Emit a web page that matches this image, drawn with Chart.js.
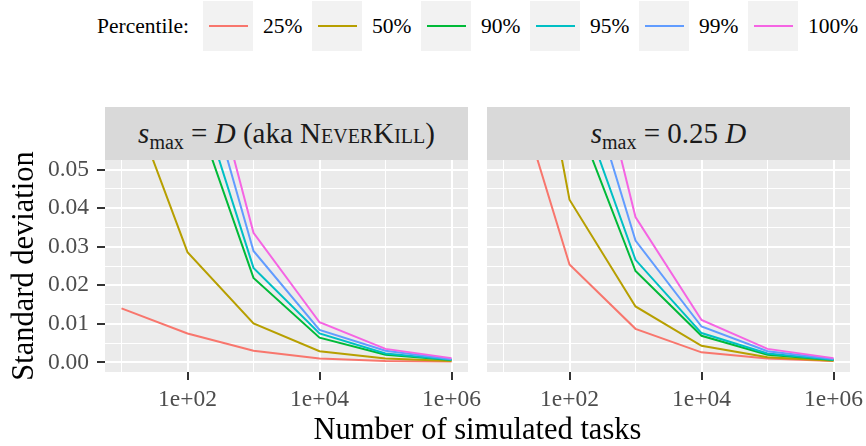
<!DOCTYPE html>
<html>
<head>
<meta charset="utf-8">
<script src="https://cdn.jsdelivr.net/npm/chart.js@4"></script>
<style>
  body { margin: 0; background: #fff; font-family: "Liberation Serif", serif; }
  #wrap { position: relative; width: 866px; height: 446px; overflow: hidden; }
  canvas { position: absolute; top: 0; }
  #leftChart { left: 0; }
  #rightChart { left: 480px; }
  .strip { position: absolute; top: 107px; height: 53px; width: 363px; background: #D9D9D9;
           display: flex; align-items: center; justify-content: center; font-size: 29px; color: #1A1A1A; }
  .strip sub { font-size: 20px; vertical-align: -6px; line-height: 0; }
  .sc { font-variant: small-caps; }
  #legend { position: absolute; top: 1px; left: 97px; height: 50px; display: flex; align-items: center; font-size: 21.5px; }
  #legend .key { width: 50px; height: 50px; background: #F2F2F2; display: flex; align-items: center; justify-content: center; }
  #legend .key span { display: block; width: 39px; height: 2px; }
  #legend .lbl { width: 59px; padding-left: 10px; box-sizing: border-box; }
  #xTitle { position: absolute; left: 105px; width: 745px; top: 412px; text-align: center; font-size: 30.5px; }
</style>
</head>
<body>
<div id="wrap">
  <div id="legend"></div>
  <div class="strip" style="left:105px"><span><i>s</i><sub>max</sub>&nbsp;=&nbsp;<i>D</i>&nbsp;(aka&nbsp;<span class="sc">NeverKill</span>)</span></div>
  <div class="strip" style="left:487px"><span><i>s</i><sub>max</sub>&nbsp;=&nbsp;0.25&nbsp;<i>D</i></span></div>
  <canvas id="leftChart" width="486" height="446"></canvas>
  <canvas id="rightChart" width="386" height="446"></canvas>
  <div id="xTitle">Number of simulated tasks</div>
</div>
<script>
// number of simulated tasks (x)
const tasks = [1e1, 1e2, 1e3, 1e4, 1e5, 1e6];
const percentiles = ['25%', '50%', '90%', '95%', '99%', '100%'];
const yTicks = [0, 0.01, 0.02, 0.03, 0.04, 0.05];
const yMinorTicks = [0.005, 0.015, 0.025, 0.035, 0.045];

// s_max = D (aka NeverKill); null = above the visible range, not readable
const nkP25 = [0.0140, 0.0075, 0.0030, 0.0010, 0.00035, 0.0002];
const nkP50 = [0.0744, 0.0286, 0.0101, 0.0029, 0.0010, 0.00035];
const nkP90 = [null, 0.0711, 0.0219, 0.0064, 0.0020, 0.0006];
const nkP95 = [null, 0.0783, 0.0245, 0.0075, 0.0023, 0.0007];
const nkP99 = [null, 0.0890, 0.0289, 0.0084, 0.0030, 0.0008];
const nkP100 = [null, 0.0986, 0.0336, 0.0104, 0.0035, 0.0011];

// s_max = 0.25 D
const qdP25 = [0.0814, 0.0254, 0.0087, 0.0026, 0.0010, 0.00035];
const qdP50 = [0.133, 0.0422, 0.0145, 0.0043, 0.0013, 0.0004];
const qdP90 = [null, 0.0681, 0.0237, 0.0069, 0.0020, 0.0006];
const qdP95 = [null, 0.0744, 0.0266, 0.0076, 0.0023, 0.0007];
const qdP99 = [null, 0.0879, 0.0316, 0.0093, 0.0029, 0.0009];
const qdP100 = [null, 0.107, 0.0377, 0.0110, 0.0035, 0.0011];

const colors = ['#F8766D', '#B79F00', '#00BA38', '#00BFC4', '#619CFF', '#F564E3'];

Chart.defaults.font.family = '"Liberation Serif", serif';

// legend (ggplot style keys)
const legend = document.getElementById('legend');
legend.innerHTML = '<div style="width:106px">Percentile:</div>' + percentiles.map((p, i) =>
    `<div class="key"><span style="background:${colors[i]}"></span></div><div class="lbl">${p}</div>`).join('');

const isMajorY = v => yTicks.some(t => Math.abs(t - v) < 1e-9);
const isMajorX = v => Math.round(Math.log10(v)) % 2 === 0;

// grey panel background
const panelBg = {
    id: 'panelBg',
    beforeDraw(chart) {
        const a = chart.chartArea, c = chart.ctx;
        c.save();
        c.fillStyle = '#EBEBEB';
        c.fillRect(a.left, a.top, a.right - a.left, a.bottom - a.top);
        c.restore();
    }
};

function makeChart(id, series, showY) {
    const datasets = series.map((vals, i) => ({
        label: percentiles[i],
        data: tasks.map((t, j) => ({ x: t, y: vals[j] })),
        borderColor: colors[i],
        backgroundColor: colors[i],
        borderWidth: 2,
        pointRadius: 0,
        tension: 0,
        order: series.length - i
    }));
    return new Chart(document.getElementById(id), {
        type: 'line',
        data: { datasets: datasets },
        plugins: [panelBg],
        options: {
            responsive: false,
            animation: false,
            devicePixelRatio: 1,
            layout: { padding: { top: 160, right: showY ? 18 : 16, left: showY ? 0 : 7, bottom: 0 } },
            plugins: { legend: { display: false }, tooltip: { enabled: false } },
            scales: {
                x: {
                    type: 'logarithmic',
                    min: Math.pow(10, 0.75),
                    max: Math.pow(10, 6.25),
                    afterBuildTicks: s => { s.ticks = tasks.map(v => ({ value: v })); },
                    afterFit: s => { s.height = 74; s.paddingLeft = 0; s.paddingRight = 0; },
                    border: { display: false },
                    grid: {
                        color: '#FFFFFF',
                        lineWidth: c => (c.tick && isMajorX(c.tick.value)) ? 2 : 1,
                        tickColor: c => (c.tick && isMajorX(c.tick.value)) ? '#333333' : 'rgba(0,0,0,0)',
                        tickLength: 8,
                        tickWidth: 2
                    },
                    ticks: {
                        autoSkip: false,
                        maxRotation: 0,
                        padding: 6,
                        color: '#4D4D4D',
                        font: { size: 23.5 },
                        callback: v => isMajorX(v) ? '1e+0' + Math.round(Math.log10(v)) : ''
                    }
                },
                y: {
                    type: 'linear',
                    min: -0.0025,
                    max: 0.0525,
                    afterBuildTicks: s => {
                        s.ticks = yTicks.concat(yMinorTicks).sort((a, b) => a - b).map(v => ({ value: v }));
                    },
                    afterFit: s => { s.width = showY ? 105 : 0; s.paddingTop = 0; s.paddingBottom = 0; },
                    border: { display: false },
                    grid: {
                        color: '#FFFFFF',
                        lineWidth: c => (c.tick && isMajorY(c.tick.value)) ? 2 : 1,
                        tickColor: c => (showY && c.tick && isMajorY(c.tick.value)) ? '#333333' : 'rgba(0,0,0,0)',
                        tickLength: 8,
                        drawTicks: showY,
                        tickWidth: 2
                    },
                    ticks: {
                        display: showY,
                        autoSkip: false,
                        padding: 8,
                        color: '#4D4D4D',
                        font: { size: 23.5 },
                        callback: v => isMajorY(v) ? v.toFixed(2) : ''
                    },
                    title: {
                        display: showY,
                        text: 'Standard deviation',
                        color: '#000000',
                        font: { size: 30.5 },
                        padding: { top: 7, bottom: 0 }
                    }
                }
            }
        }
    });
}

makeChart('leftChart', [nkP25, nkP50, nkP90, nkP95, nkP99, nkP100], true);
makeChart('rightChart', [qdP25, qdP50, qdP90, qdP95, qdP99, qdP100], false);
</script>
</body>
</html>
